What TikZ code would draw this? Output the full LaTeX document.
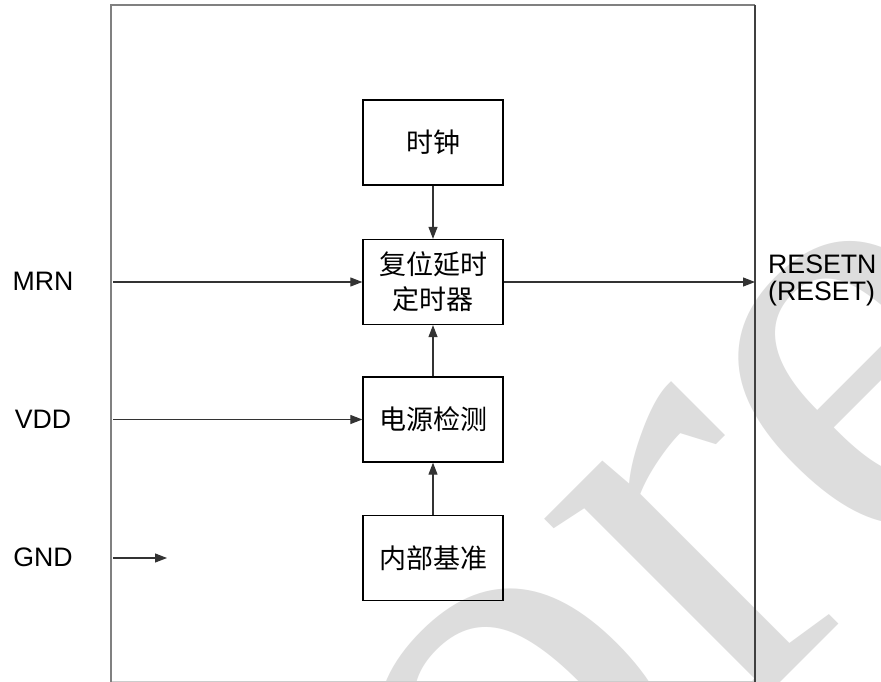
\documentclass[tikz,border=0pt]{standalone}
\usepackage{fontspec}
\setmainfont{Liberation Sans}
\newfontfamily\cjkfont{Noto Sans CJK SC}
\newfontfamily\wmfont{Liberation Serif}
\usetikzlibrary{arrows.meta}
\definecolor{wmgray}{RGB}{221,221,221}
\definecolor{framegray}{RGB}{128,128,128}
\tikzset{
  blockbox/.style={draw=black, line width=1.3pt, minimum width=140pt, minimum height=85pt,
    inner sep=0pt, font=\cjkfont\fontsize{27}{35}\selectfont, align=center},
  sig/.style={draw=black!80, line width=1.1pt, -{Triangle[length=12pt,width=9pt]}},
  pinlabel/.style={font=\fontsize{26.7}{27}\selectfont, inner sep=0pt, anchor=base},
  wmark/.style={anchor=base west, rotate=45, inner sep=0pt, text=wmgray,
    font=\wmfont\fontsize{615}{615}\selectfont},
}
\begin{document}
\begin{tikzpicture}[x=1pt,y=-1pt]
\useasboundingbox (0,0) rectangle (881,682);
\fill[white] (0,0) rectangle (881,682);
% watermark
\begin{scope}
  \clip (0,0) rectangle (881,682);
  \node[wmark] (wm) at (517.6,945.4) {ore};
\end{scope}
% frame
\coordinate (fBL) at (111,682);
\coordinate (fTL) at (111,5);
\coordinate (fTR) at (755,5);
\coordinate (fBR) at (755,682);
\draw[black!20, line width=1pt] (111,681) -- (755,681);
\draw[framegray, line width=2pt] (fBL) -- (fTL) -- (fTR);
\draw[black!75, line width=1.3pt] (fTR) -- (fBR);
% blocks
\node[blockbox] (clk) at (433,142.5) {时钟};
\node[blockbox] (rst) at (433,282) {复位延时\\定时器};
\node[blockbox] (pwr) at (433,419.5) {电源检测};
\node[blockbox] (ref) at (433,558) {内部基准};
% internal connectors
\draw[sig] (clk) -- (rst);
\draw[sig] (pwr) -- (rst);
\draw[sig] (ref) -- (pwr);
% inputs
\coordinate (mrnIn) at (113,282);
\coordinate (vddIn) at (113,419.5);
\coordinate (gndIn) at (113,558);
\coordinate (gndEnd) at (167,558);
\coordinate (rstOut) at (755,282);
\draw[sig] (mrnIn) -- (rst.west);
\draw[sig] (vddIn) -- (pwr.west);
\draw[sig] (gndIn) -- (gndEnd);
\draw[sig] (rst.east) -- (rstOut);
% labels
\node[pinlabel] (mrn) at (43,290.5) {MRN};
\node[pinlabel] (vdd) at (43,428) {VDD};
\node[pinlabel] (gnd) at (43,566.5) {GND};
\node[anchor=base west, inner sep=0pt, font=\fontsize{26.7}{27}\selectfont] (resetn) at (768,273)
  {\begin{tabular}[t]{@{}l@{}}RESETN\\(RESET)\end{tabular}};
\end{tikzpicture}
\end{document}
